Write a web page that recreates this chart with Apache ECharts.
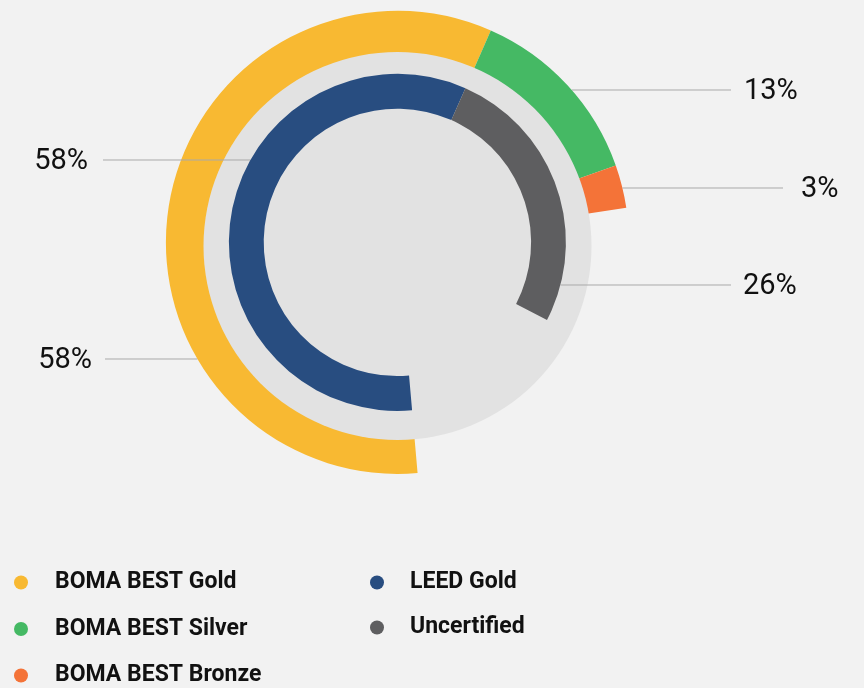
<!DOCTYPE html>
<html>
<head>
<meta charset="utf-8">
<script src="https://cdn.jsdelivr.net/npm/echarts@6/dist/echarts.min.js"></script>
<style>
  html, body { margin: 0; padding: 0; background: #F2F2F2; }
  #chart { width: 864px; height: 688px; }
</style>
</head>
<body>
<div id="chart"></div>
<script>
// ---- data ----
const outerNames  = ['BOMA BEST Gold', 'BOMA BEST Silver', 'BOMA BEST Bronze'];
const outerValues = [58, 13, 3];
const innerNames  = ['LEED Gold', 'Uncertified'];
const innerValues = [58, 26];

// ---- styles ----
const outerColors = ['#F8B932', '#45B964', '#F47338'];
const innerColors = ['#284D80', '#5E5E60'];
const CX = 397.4, CY = 242.4;
const R_OUT = [185, 231.5];
const R_IN = [133.7, 168.5];
const LINE_COLOR = '#A9A9A9';
const PCT_FONT = "Roboto, 'Liberation Sans', Arial, sans-serif";
const LEG_FONT = "Roboto, 'Liberation Sans', Arial, sans-serif";

// label placement per item: side, y of leader line, outer end x of line, text x
const outerLabelPos = [
  { side: 'left',  y: 359, lineEnd: 105, textX: 92 },
  { side: 'right', y: 90,  lineEnd: 731, textX: 744 },
  { side: 'right', y: 188, lineEnd: 783, textX: 801 }
];
const innerLabelPos = [
  { side: 'left',  y: 160, lineEnd: 103, textX: 88 },
  { side: 'right', y: 285, lineEnd: 731, textX: 743 }
];

function makeLayout(posArr, radius) {
  return function (params) {
    const p = posArr[params.dataIndex];
    if (!p) return {};
    const dy = p.y - CY;
    const dx = Math.sqrt(Math.max(0, radius * radius - dy * dy));
    const xs = p.side === 'left' ? CX - dx : CX + dx;
    return {
      x: p.textX,
      y: p.y + 1.5,
      align: p.side === 'left' ? 'right' : 'left',
      verticalAlign: 'middle',
      labelLinePoints: [[xs, p.y], [xs, p.y], [p.lineEnd, p.y]]
    };
  };
}

function buildData(names, values, colors) {
  const total = values.reduce((a, b) => a + b, 0);
  const d = names.map((n, i) => ({
    name: n, value: values[i], itemStyle: { color: colors[i] }
  }));
  d.push({
    name: '_rest', value: 100 - total,
    itemStyle: { color: 'rgba(0,0,0,0)' },
    label: { show: false }, labelLine: { show: false }
  });
  return d;
}

const labelStyle = {
  show: true,
  position: 'outside',
  formatter: '{c}%',
  fontFamily: PCT_FONT,
  fontSize: 29,
  color: '#111111'
};

const legendText = {
  fontFamily: LEG_FONT, fontWeight: 'bold', fontSize: 23,
  color: '#111111', lineHeight: 25
};

const chart = echarts.init(document.getElementById('chart'), null, { renderer: 'canvas' });
chart.setOption({
  backgroundColor: '#F2F2F2',
  animation: false,
  legend: [
    {
      data: outerNames,
      orient: 'vertical',
      left: 14, top: 570, height: 130,
      padding: 0,
      icon: 'circle',
      itemWidth: 14, itemHeight: 14,
      itemGap: 21.5,
      selectedMode: false,
      textStyle: Object.assign({}, legendText, { padding: [0, 0, 0, 22] })
    },
    {
      data: innerNames,
      orient: 'vertical',
      left: 370, top: 570, height: 130,
      padding: 0,
      icon: 'circle',
      itemWidth: 14, itemHeight: 14,
      itemGap: 20,
      selectedMode: false,
      textStyle: Object.assign({}, legendText, { padding: [0, 0, 0, 21] })
    }
  ],
  series: [
    {
      type: 'pie', name: 'BOMA BEST', z: 2,
      center: [CX, CY], radius: R_OUT,
      startAngle: 275, clockwise: true,
      avoidLabelOverlap: false,
      emphasis: { disabled: true },
      label: labelStyle,
      labelLine: { show: true, lineStyle: { color: LINE_COLOR, width: 1 } },
      labelLayout: makeLayout(outerLabelPos, R_OUT[1]),
      data: buildData(outerNames, outerValues, outerColors)
    },
    {
      type: 'pie', name: 'bg', silent: true, z: 3,
      center: [397.5, 246], radius: [0, 194],
      label: { show: false }, labelLine: { show: false },
      emphasis: { disabled: true },
      data: [{ name: '_bg', value: 1, itemStyle: { color: '#E2E2E2' } }]
    },
    {
      type: 'pie', name: 'LEED', z: 4,
      center: [CX, CY], radius: R_IN,
      startAngle: 275, clockwise: true,
      avoidLabelOverlap: false,
      emphasis: { disabled: true },
      label: labelStyle,
      labelLine: { show: true, lineStyle: { color: LINE_COLOR, width: 1 } },
      labelLayout: makeLayout(innerLabelPos, R_IN[1]),
      data: buildData(innerNames, innerValues, innerColors)
    }
  ]
});
</script>
</body>
</html>
